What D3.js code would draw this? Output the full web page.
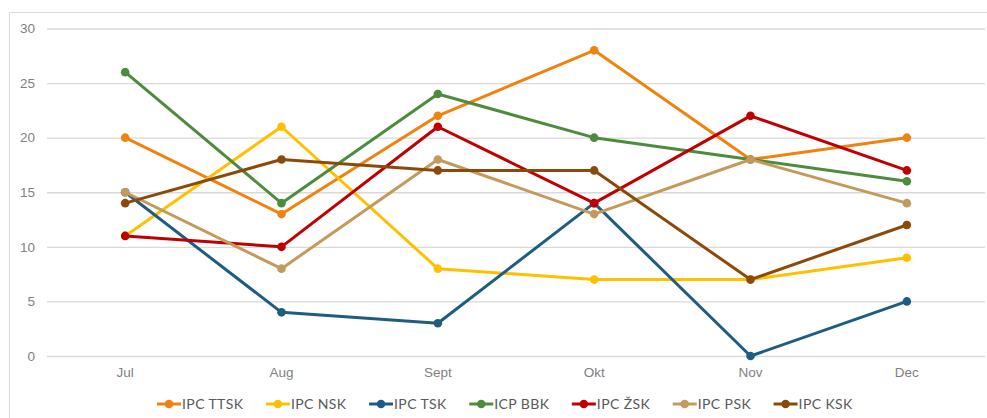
<!DOCTYPE html>
<html>
<head>
<meta charset="utf-8">
<script src="https://cdn.jsdelivr.net/npm/d3@7"></script>
<style>
  body { margin: 0; background: #fff; }
  #chart svg { display: block; font-family: Lato, "Open Sans", sans-serif; }
</style>
</head>
<body>
<div id="chart"></div>
<script>
"use strict";

// data ****************************************************************
var months = ["Jul", "Aug", "Sept", "Okt", "Nov", "Dec"];
var seriesNames = ["IPC TTSK", "IPC NSK", "IPC TSK", "ICP BBK", "IPC ŽSK", "IPC PSK", "IPC KSK"];
var ttsk = [20, 13, 22, 28, 18, 20];
var nsk  = [11, 21, 8, 7, 7, 9];
var tsk  = [15, 4, 3, 14, 0, 5];
var bbk  = [26, 14, 24, 20, 18, 16];
var zsk  = [11, 10, 21, 14, 22, 17];
var psk  = [15, 8, 18, 13, 18, 14];
var ksk  = [14, 18, 17, 17, 7, 12];
var yTicks = [0, 5, 10, 15, 20, 25, 30];

var seriesValues = [ttsk, nsk, tsk, bbk, zsk, psk, ksk];
var colors = ["#F0820F", "#FFC000", "#1F5C82", "#4E8B3F", "#C00000", "#C49A5C", "#8B4A0A"];

// variables ***********************************************************
var width = 987;
var height = 418;
var plotLeft = 47, plotRight = 985, plotTop = 28.5, plotBottom = 356;

var x = d3.scaleBand().domain(months).range([plotLeft, plotRight]);
var y = d3.scaleLinear().domain([0, 30]).range([plotBottom, plotTop]);
var color = d3.scaleOrdinal().domain(seriesNames).range(colors);

var svg = d3.select("#chart").append("svg")
  .attr("width", width)
  .attr("height", height);

// chart frame
svg.append("path")
  .attr("d", "M9.5,418 V12.5 H987")
  .attr("fill", "none")
  .attr("stroke", "#d9d9d9")
  .attr("stroke-width", 1);

// gridlines + y axis ***************************************************
var yAxis = svg.append("g")
  .attr("transform", "translate(" + plotLeft + ",0)")
  .call(d3.axisLeft(y).tickValues(yTicks).tickSize(-(plotRight - plotLeft)).tickPadding(12));
yAxis.select(".domain").remove();
yAxis.selectAll(".tick line").attr("stroke", "#d9d9d9").attr("stroke-width", 1.3);
yAxis.selectAll(".tick text").attr("fill", "#7f7f7f").style("font-size", "13.5px");

// x axis
var xAxis = svg.append("g")
  .attr("transform", "translate(0," + plotBottom + ")")
  .call(d3.axisBottom(x).tickSize(0).tickPadding(11));
xAxis.select(".domain").remove();
xAxis.selectAll(".tick text").attr("fill", "#7f7f7f").style("font-size", "13.5px");

// lines ****************************************************************
var line = d3.line()
  .x(function(d, i) { return x(months[i]) + x.bandwidth() / 2; })
  .y(function(d) { return y(d); });

var series = svg.selectAll(".series")
  .data(seriesNames)
  .enter()
  .append("g")
  .attr("class", "series");

series.append("path")
  .attr("d", function(d, i) { return line(seriesValues[i]); })
  .attr("fill", "none")
  .attr("stroke", function(d) { return color(d); })
  .attr("stroke-width", 3)
  .attr("stroke-linejoin", "round");

series.selectAll("circle")
  .data(function(d, i) { return seriesValues[i].map(function(v) { return { name: d, v: v }; }); })
  .enter()
  .append("circle")
  .attr("cx", function(d, i) { return x(months[i]) + x.bandwidth() / 2; })
  .attr("cy", function(d) { return y(d.v); })
  .attr("r", 4.3)
  .attr("fill", function(d) { return color(d.name); });

// legend ***************************************************************
var legend = svg.append("g").attr("class", "legend");
var lx = 157, ly = 404;
seriesNames.forEach(function(name) {
  var g = legend.append("g").attr("transform", "translate(" + lx + "," + ly + ")");
  g.append("line")
    .attr("x1", 0).attr("x2", 24)
    .attr("stroke", color(name))
    .attr("stroke-width", 3);
  g.append("circle")
    .attr("cx", 12).attr("r", 4.3)
    .attr("fill", color(name));
  var t = g.append("text")
    .attr("x", 25)
    .attr("dy", "0.35em")
    .attr("fill", "#595959")
    .style("font-size", "14px")
    .style("letter-spacing", "0.4px")
    .text(name);
  lx += 25 + t.node().getComputedTextLength() + 22.5;
});
</script>
</body>
</html>
